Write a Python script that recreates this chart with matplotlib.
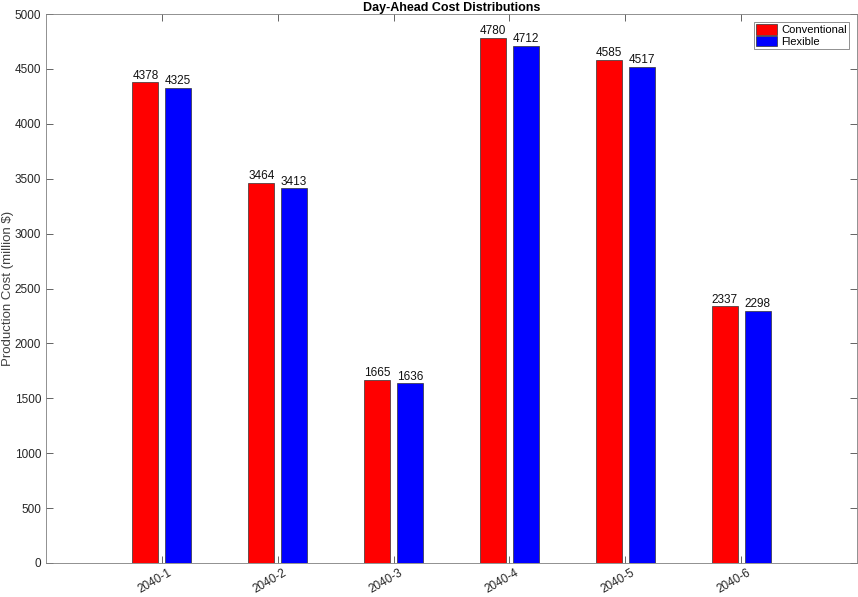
import numpy as np
import matplotlib
matplotlib.use('Agg')
import matplotlib.pyplot as plt
from matplotlib.transforms import ScaledTranslation

plt.rcParams['font.family'] = ['Liberation Sans', 'DejaVu Sans']

cases = ['2040-1', '2040-2', '2040-3', '2040-4', '2040-5', '2040-6']
conventional = [4378, 3464, 1665, 4780, 4585, 2337]
flexible = [4325, 3413, 1636, 4712, 4517, 2298]

fig = plt.figure(figsize=(8.58, 5.97), dpi=100)
ax = fig.add_axes([0.0536, 0.057, 0.9452, 0.9195])

x = np.arange(1, len(cases) + 1)
w = 0.225
b1 = ax.bar(x - 0.142, conventional, w, color='#ff0000', edgecolor='#333333', linewidth=0.5, label='Conventional')
b2 = ax.bar(x + 0.142, flexible, w, color='#0000ff', edgecolor='#333333', linewidth=0.5, label='Flexible')
ax.bar_label(b1, fontsize=8.5, padding=0.5, color='#111111')
ax.bar_label(b2, fontsize=8.5, padding=0.5, color='#111111')

ax.set_xlim(0, 7)
ax.set_ylim(0, 5000)
ax.set_yticks(np.arange(0, 5001, 500))
ax.set_xticks(x)
ax.set_xticklabels(cases, rotation=30, ha='right', va='top', rotation_mode='anchor')
ax.tick_params(direction='in', top=True, right=True, length=5, width=0.5,
               labelsize=8.5, colors='#262626')
ax.tick_params(axis='x', pad=3)
# nudge x labels a bit right, like the reference
for lab in ax.get_xticklabels():
    lab.set_transform(lab.get_transform() + ScaledTranslation(4/72, 0, fig.dpi_scale_trans))
for s in ax.spines.values():
    s.set_linewidth(0.6)
    s.set_color('#7f7f7f')
ax.set_ylabel('Production Cost (million $)', fontsize=9.5, color='#404040')
ax.yaxis.set_label_coords(-0.040, 0.5)
ax.set_title('Day-Ahead Cost Distributions', fontsize=9, fontweight='bold', pad=2)
leg = ax.legend(loc='upper right', fontsize=8, fancybox=False, framealpha=1,
                edgecolor='#7f7f7f', borderaxespad=0.7, handlelength=1.9,
                handleheight=1.1, handletextpad=0.4, borderpad=0.2, labelspacing=0.05)
leg.get_frame().set_linewidth(0.6)

fig.savefig('out.png', dpi=100)
